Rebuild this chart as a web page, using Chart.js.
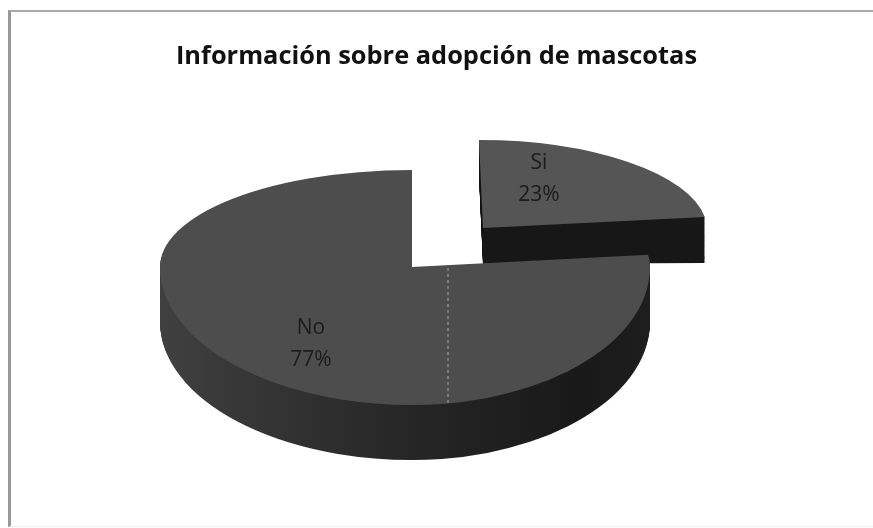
<!DOCTYPE html>
<html><head><meta charset="utf-8">
<style>
html,body{margin:0;padding:0;background:#fff;overflow:hidden;}
#wrap{position:absolute;left:0;top:0;width:873px;height:528px;overflow:hidden;}
#frame{position:absolute;left:8px;top:10px;width:865px;height:517px;border-left:3px solid #999;border-top:2px solid #aaa;border-bottom:1px solid #eee;box-sizing:border-box;}
canvas{position:absolute;left:0;top:0;}
</style></head><body>
<div id="wrap"><div id="frame"></div><canvas id="c" width="873" height="528"></canvas></div>
<script src="https://cdn.jsdelivr.net/npm/chart.js@4/dist/chart.umd.min.js"></script>
<script>
const categories = ['Si', 'No'];
const values = [23, 77];
const chartTitle = 'Información sobre adopción de mascotas';

const UNIT = 100;
const NO_VIEW = { x: 412, y: 267, left: 252, right: 238, up: 97, down: 138, depth: 55 };
const SI_VIEW = { x: 483, y: 228, rx: 224, ry: 88, lean: 0.04, depthNear: 36, depthFar: 46 };
const LABELS = [[539, 163, 195], [311, 328, 360]];

const withOptions = (arc, color, fn) => {
  const keep = arc.options;
  arc.options = Object.assign({}, keep, { backgroundColor: color, borderColor: color });
  fn();
  arc.options = keep;
};

const pie3d = {
  id: 'pie3d',
  beforeDatasetDraw(chart) {
    const ctx = chart.ctx;
    const [si, no] = chart.getDatasetMeta(0).data;

    const drawSi = (t, color) => {
      ctx.save();
      const k = t * (SI_VIEW.depthFar - SI_VIEW.depthNear) / SI_VIEW.rx * (SI_VIEW.rx / UNIT);
      ctx.transform(SI_VIEW.rx / UNIT, k, SI_VIEW.lean, SI_VIEW.ry / UNIT,
        SI_VIEW.x, SI_VIEW.y + t * SI_VIEW.depthNear);
      ctx.translate(-si.x, -si.y);
      if (color) withOptions(si, color, () => si.draw(ctx)); else si.draw(ctx);
      ctx.restore();
    };
    for (let i = 48; i >= 1; i--) drawSi(i / 48, '#181818');
    drawSi(0, null);

    const quads = [
      { sx: NO_VIEW.left, sy: NO_VIEW.up, l: 0, r: NO_VIEW.x, upper: true, left: true },
      { sx: NO_VIEW.left, sy: NO_VIEW.down, l: 0, r: NO_VIEW.x, upper: false, left: true },
      { sx: NO_VIEW.right, sy: NO_VIEW.up, l: NO_VIEW.x, r: 873, upper: true, left: false },
      { sx: NO_VIEW.right, sy: NO_VIEW.down, l: NO_VIEW.x, r: 873, upper: false, left: false }
    ];
    const drawNo = (dy, useSide) => {
      quads.forEach(q => {
        ctx.save();
        const split = NO_VIEW.y + dy;
        ctx.beginPath();
        if (q.upper) ctx.rect(q.l, 0, q.r - q.l, split);
        else ctx.rect(q.l, split, q.r - q.l, 528 - split);
        ctx.clip();
        ctx.transform(q.sx / UNIT, 0, 0, q.sy / UNIT, NO_VIEW.x, split);
        ctx.translate(-no.x, -no.y);
        if (useSide) {
          const g = ctx.createLinearGradient(q.left ? no.x - UNIT : no.x, 0, q.left ? no.x : no.x + UNIT, 0);
          if (q.left) {
            g.addColorStop(0, '#404040');
            g.addColorStop(0.35, '#363636');
            g.addColorStop(1, '#262626');
          } else {
            g.addColorStop(0, '#262626');
            g.addColorStop(0.7, '#191919');
            g.addColorStop(1, '#1e1e1e');
          }
          withOptions(no, g, () => no.draw(ctx));
        } else {
          no.draw(ctx);
        }
        ctx.restore();
      });
    };
    for (let d = NO_VIEW.depth; d >= 1; d--) drawNo(d, true);
    drawNo(0, false);

    // pale dotted scan line across the top face
    ctx.save();
    ctx.strokeStyle = 'rgba(205,205,205,0.35)';
    ctx.lineWidth = 2;
    ctx.setLineDash([3, 3]);
    ctx.beginPath();
    ctx.moveTo(448, 268);
    ctx.lineTo(448, 403);
    ctx.stroke();
    ctx.restore();

    ctx.save();
    ctx.font = '21px "Open Sans", sans-serif';
    ctx.fillStyle = '#1c1c1c';
    ctx.textAlign = 'center';
    ctx.textBaseline = 'middle';
    categories.forEach((name, i) => {
      ctx.fillText(name, LABELS[i][0], LABELS[i][1]);
      ctx.fillText(values[i] + '%', LABELS[i][0], LABELS[i][2]);
    });
    ctx.restore();
    return false;
  }
};

new Chart(document.getElementById('c'), {
  type: 'pie',
  data: {
    labels: categories,
    datasets: [{
      data: values,
      backgroundColor: ['#555555', '#4d4d4d'],
      borderWidth: 0,
      hoverOffset: 0
    }]
  },
  options: {
    responsive: false,
    animation: false,
    radius: UNIT,
    rotation: 0,
    plugins: {
      legend: { display: false },
      tooltip: { enabled: false },
      title: {
        display: true,
        text: chartTitle,
        color: '#111111',
        font: { family: '"Open Sans", sans-serif', size: 25.4, weight: 'bold' },
        padding: { top: 42, bottom: 10 }
      }
    }
  },
  plugins: [pie3d]
});
</script>
</body></html>
